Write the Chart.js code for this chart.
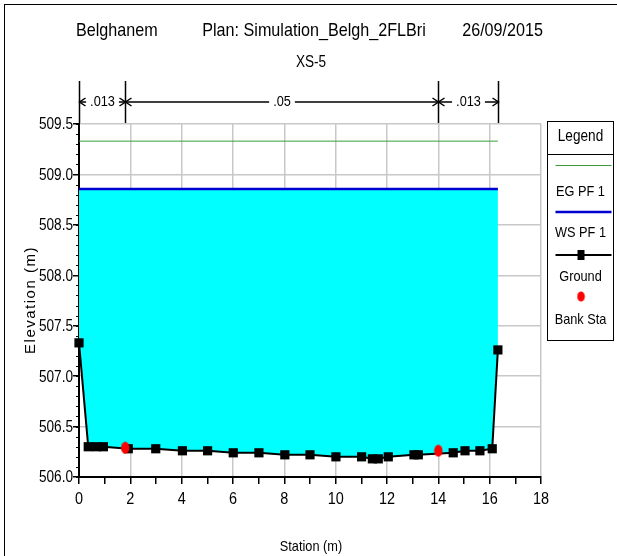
<!DOCTYPE html>
<html>
<head>
<meta charset="utf-8">
<script src="https://cdn.jsdelivr.net/npm/chart.js@4/dist/chart.umd.min.js"></script>
<style>
  html, body { margin: 0; padding: 0; background: #fff; }
  canvas { display: block; }
</style>
</head>
<body>
<canvas id="xs-chart" width="617" height="556"></canvas>
<script>
// cross section XS-5 (HEC-RAS style plot)
const FONT = "'Liberation Sans', Arial, sans-serif";
const SQUEEZE = 0.85; // no narrow face installed, so squeeze Liberation Sans

const groundStation = [0, 0.36, 0.69, 0.95, 1.92, 2.99, 4.03, 5.01, 6.01, 7.01, 8.02, 9.0, 10.01, 11.01, 11.43, 11.66, 12.05, 13.05, 13.22, 14.58, 15.04, 15.62, 16.1, 16.32];
const groundElev = [507.33, 506.30, 506.30, 506.30, 506.28, 506.28, 506.26, 506.26, 506.24, 506.24, 506.22, 506.22, 506.20, 506.20, 506.18, 506.18, 506.20, 506.22, 506.22, 506.24, 506.26, 506.26, 506.28, 507.26];

const bankStation = [1.8, 14.0];
const bankElev = [506.29, 506.26];

const wsStation = [0, 16.32];
const wsElev = [508.855, 508.855];
const egStation = [0, 16.32];
const egElev = [509.33, 509.33];

const manningBreaks = [0, 1.8, 14.0, 16.32];
const manningN = ['.013', '.05', '.013'];

const titleParts = ['Belghanem', 'Plan: Simulation_Belgh_2FLBri', '26/09/2015'];
const subTitle = 'XS-5';

const toXY = (xs, ys) => xs.map((x, i) => ({ x: x, y: ys[i] }));

// red bank marker is an upright ellipse
const bankDot = document.createElement('canvas');
bankDot.width = 10; bankDot.height = 13;
(function () {
  const c = bankDot.getContext('2d');
  c.fillStyle = '#ff0000';
  c.beginPath();
  c.ellipse(5, 6.5, 4.2, 6, 0, 0, Math.PI * 2);
  c.fill();
})();

function narrowText(ctx, text, x, y, size, align) {
  ctx.save();
  ctx.translate(x, y);
  ctx.scale(SQUEEZE, 1);
  ctx.font = size + 'px ' + FONT;
  ctx.textAlign = align || 'center';
  ctx.textBaseline = 'middle';
  ctx.fillStyle = '#000';
  ctx.fillText(text, 0, 0);
  const w = ctx.measureText(text).width * SQUEEZE;
  ctx.restore();
  return w;
}

function arrowHead(ctx, x, y, dir) {
  ctx.beginPath();
  ctx.moveTo(x - dir * 6, y - 4);
  ctx.lineTo(x, y);
  ctx.lineTo(x - dir * 6, y + 4);
  ctx.stroke();
}

const decorations = {
  id: 'decorations',
  beforeDraw(chart) {
    const ctx = chart.ctx;
    ctx.save();
    ctx.fillStyle = '#fff';
    ctx.fillRect(0, 0, chart.width, chart.height);
    ctx.restore();
  },
  afterDraw(chart) {
    const ctx = chart.ctx;
    const xs = chart.scales.x, ys = chart.scales.y;
    const area = chart.chartArea;
    ctx.save();

    // outer frame
    ctx.strokeStyle = '#000';
    ctx.lineWidth = 1;
    ctx.strokeRect(4.5, 4.5, chart.width + 10, chart.height + 10);

    // titles
    narrowText(ctx, titleParts[0], 76, 31, 19, 'left');
    narrowText(ctx, titleParts[1], 314, 31, 19, 'center');
    narrowText(ctx, titleParts[2], 543, 31, 19, 'right');
    narrowText(ctx, subTitle, 311, 63, 16, 'center');

    // y axis title
    ctx.save();
    ctx.translate(31, 300);
    ctx.rotate(-Math.PI / 2);
    ctx.font = '15px ' + FONT;
    ctx.fillStyle = '#000';
    ctx.textAlign = 'center';
    ctx.textBaseline = 'middle';
    ctx.letterSpacing = '1.5px';
    ctx.fillText('Elevation (m)', 0, 0);
    ctx.restore();

    // tick labels from the scales' own ticks
    ys.ticks.forEach(t => {
      narrowText(ctx, t.value.toFixed(1), area.left - 6, ys.getPixelForValue(t.value) + 1, 16, 'right');
    });
    xs.ticks.forEach(t => {
      if (t.value % 2 !== 0) return;
      narrowText(ctx, String(t.value), xs.getPixelForValue(t.value), area.bottom + 22, 17, 'center');
    });
    narrowText(ctx, 'Station (m)', 311, 547, 15, 'center');

    // minor ticks on y axis
    ctx.strokeStyle = '#000';
    ctx.lineWidth = 1;
    for (let i = 0; i <= 35; i++) {
      const py = Math.round(ys.getPixelForValue(506 + i * 0.1)) + 0.5;
      ctx.beginPath();
      ctx.moveTo(area.left - 3, py);
      ctx.lineTo(area.left, py);
      ctx.stroke();
    }

    // manning's n bars and arrows
    const barTop = 81, barBot = area.top - 1, arrowY = 102;
    ctx.lineWidth = 1.5;
    const bx = manningBreaks.map(v => Math.round(xs.getPixelForValue(v)) + 0.5);
    bx.forEach(px => {
      ctx.beginPath();
      ctx.moveTo(px, barTop);
      ctx.lineTo(px, barBot);
      ctx.stroke();
    });
    manningN.forEach((label, i) => {
      const l = bx[i], r = bx[i + 1], mid = (l + r) / 2;
      const w = narrowText(ctx, label, mid, arrowY, 15, 'center');
      const gl = mid - w / 2 - 4, gr = mid + w / 2 + 4;
      ctx.beginPath();
      ctx.moveTo(gl, arrowY); ctx.lineTo(l, arrowY);
      ctx.moveTo(gr, arrowY); ctx.lineTo(r, arrowY);
      ctx.stroke();
      arrowHead(ctx, l, arrowY, -1);
      arrowHead(ctx, r, arrowY, 1);
    });

    // legend box
    const lx = 547.5, lw = 66, ly = 121.5, lh = 219;
    const cx = lx + lw / 2;
    ctx.lineWidth = 1;
    ctx.strokeStyle = '#000';
    ctx.strokeRect(lx, ly, lw, lh);
    ctx.beginPath();
    ctx.moveTo(lx, 154.5); ctx.lineTo(lx + lw, 154.5);
    ctx.stroke();
    narrowText(ctx, 'Legend', cx, 137, 16, 'center');
    const ds = chart.data.datasets;
    const eg = ds.find(d => d.label === 'EG PF 1');
    const ws = ds.find(d => d.label === 'WS PF 1');
    const gr = ds.find(d => d.label === 'Ground');
    const bk = ds.find(d => d.label === 'Bank Sta');

    ctx.strokeStyle = eg.borderColor; ctx.lineWidth = eg.borderWidth;
    ctx.beginPath(); ctx.moveTo(lx + 8, 165.5); ctx.lineTo(lx + lw - 2, 165.5); ctx.stroke();
    narrowText(ctx, eg.label, cx, 192, 15, 'center');

    ctx.strokeStyle = ws.borderColor; ctx.lineWidth = ws.borderWidth;
    ctx.beginPath(); ctx.moveTo(lx + 8, 212); ctx.lineTo(lx + lw - 2, 212); ctx.stroke();
    narrowText(ctx, ws.label, cx, 233, 15, 'center');

    ctx.strokeStyle = gr.borderColor; ctx.lineWidth = gr.borderWidth;
    ctx.beginPath(); ctx.moveTo(lx + 8, 255); ctx.lineTo(lx + lw - 2, 255); ctx.stroke();
    ctx.fillStyle = '#000';
    ctx.fillRect(cx - 3, 250, 7, 10);
    narrowText(ctx, gr.label, cx, 277, 15, 'center');

    ctx.drawImage(bankDot, cx - 4, 291, 9, 11);
    narrowText(ctx, bk.label, cx, 320, 15, 'center');

    ctx.restore();
  }
};

new Chart(document.getElementById('xs-chart'), {
  type: 'line',
  data: {
    datasets: [
      { label: 'EG PF 1', data: toXY(egStation, egElev), borderColor: '#3c9c3c', borderWidth: 1, pointRadius: 0, fill: false, order: 4, clip: false },
      { label: 'WS PF 1', data: toXY(wsStation, wsElev), borderColor: '#0000d0', borderWidth: 2.5, pointRadius: 0, backgroundColor: '#00ffff', fill: { target: 2 }, order: 3, clip: false },
      { label: 'Ground', data: toXY(groundStation, groundElev), borderColor: '#000', borderWidth: 2, pointStyle: 'rect', pointRadius: 6.5, pointBackgroundColor: '#000', pointBorderWidth: 0, fill: false, order: 2, clip: false },
      { label: 'Bank Sta', data: toXY(bankStation, bankElev), showLine: false, pointStyle: bankDot, fill: false, order: 1, clip: false }
    ]
  },
  options: {
    responsive: false,
    animation: false,
    layout: { padding: { left: 0, right: 76, top: 124, bottom: 0 } },
    plugins: {
      legend: { display: false },
      tooltip: { enabled: false },
      filler: { drawTime: 'beforeDatasetsDraw' }
    },
    scales: {
      x: {
        type: 'linear', min: 0, max: 18,
        afterFit: s => { s.height = 79; },
        border: { color: '#000', width: 2 },
        grid: { color: c => (c.tick && c.tick.value % 2 === 0 ? '#c8c8c8' : 'rgba(0,0,0,0)'), tickColor: '#000', tickLength: 7, lineWidth: 1.5 },
        ticks: { stepSize: 1, autoSkip: false, maxRotation: 0, display: false }
      },
      y: {
        min: 506, max: 509.5,
        afterFit: s => { s.width = 79; },
        border: { color: '#000', width: 2 },
        grid: { color: '#c8c8c8', tickColor: '#000', tickLength: 6, lineWidth: 1.5 },
        ticks: { stepSize: 0.5, display: false }
      }
    }
  },
  plugins: [decorations]
});
</script>
</body>
</html>
